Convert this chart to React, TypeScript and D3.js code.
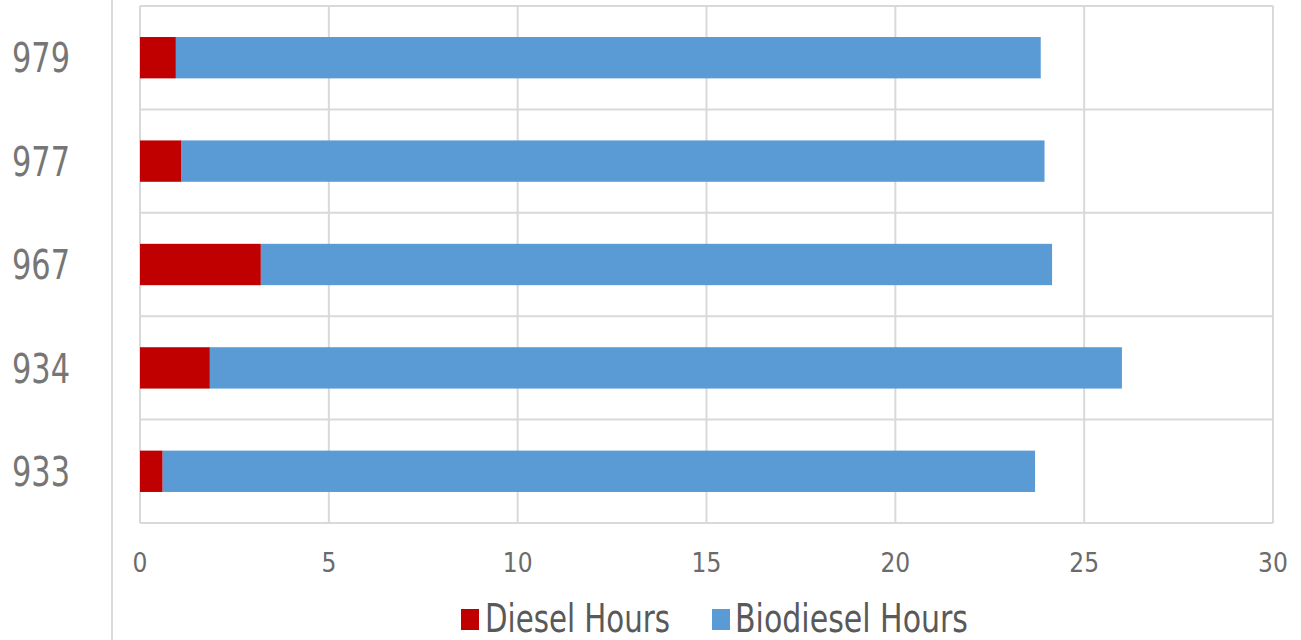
import React from 'react';
import * as d3 from 'd3';

const units = ['979', '977', '967', '934', '933'];
const dieselHours = [0.95, 1.1, 3.2, 1.85, 0.6];
const biodieselHours = [22.9, 22.85, 20.95, 24.15, 23.1];
const xTicks = [0, 5, 10, 15, 20, 25, 30];
const seriesNames = ['Diesel Hours', 'Biodiesel Hours'];
const seriesColors = ['#C00000', '#5B9BD5'];

const W = 1301;
const H = 640;
const font = "'DejaVu Sans Condensed', 'Liberation Sans Narrow', Lato, sans-serif";

export default function App() {
  const x = d3.scaleLinear().domain([0, 30]).range([140, 1273]);
  const y = d3.scaleBand().domain(units).range([6, 523]).paddingInner(0.6).paddingOuter(0.3);

  const rows = units.map((u, i) => ({ unit: u, diesel: dieselHours[i], bio: biodieselHours[i] }));
  const stack = d3.stack<any>().keys(['diesel', 'bio'])(rows);

  const step = y.step();
  const hLines = d3.range(units.length + 1).map((i) => 6 + i * step);

  return (
    <svg width={W} height={H} style={{ position: 'absolute', left: 0, top: 0, background: '#fff' }}>
      <line x1={112} x2={112} y1={0} y2={H} stroke="#d9d9d9" strokeWidth={2} />
      {hLines.map((v, i) => (
        <line key={'h' + i} x1={140} x2={1273} y1={v} y2={v} stroke="#d9d9d9" strokeWidth={2} />
      ))}
      {xTicks.map((t) => (
        <line key={'v' + t} x1={x(t)} x2={x(t)} y1={6} y2={523} stroke="#d9d9d9" strokeWidth={2} />
      ))}
      {stack.map((layer, li) => (
        <g key={li} fill={seriesColors[li]}>
          {layer.map((d, i) => (
            <rect
              key={i}
              x={x(d[0])}
              width={x(d[1]) - x(d[0])}
              y={y(units[i])}
              height={y.bandwidth()}
            />
          ))}
        </g>
      ))}
      {units.map((u) => (
        <text
          key={u}
          x={12}
          y={(y(u) as number) + y.bandwidth() / 2}
          dy="0.36em"
          textLength={58}
          lengthAdjust="spacingAndGlyphs"
          fontFamily={font}
          fontSize={41}
          fill="#767676"
        >
          {u}
        </text>
      ))}
      {xTicks.map((t) => (
        <text
          key={'t' + t}
          x={x(t)}
          y={563}
          dy="0.36em"
          textAnchor="middle"
          fontFamily={font}
          fontSize={26}
          fill="#6b6b6b"
        >
          {t}
        </text>
      ))}
      <g fontFamily={font} fontSize={39} fill="#595959">
        <rect x={461} y={609} width={18} height={21} fill={seriesColors[0]} />
        <text x={485} y={632} textLength={185} lengthAdjust="spacingAndGlyphs">{seriesNames[0]}</text>
        <rect x={712} y={609} width={18} height={21} fill={seriesColors[1]} />
        <text x={735} y={632} textLength={233} lengthAdjust="spacingAndGlyphs">{seriesNames[1]}</text>
      </g>
    </svg>
  );
}
